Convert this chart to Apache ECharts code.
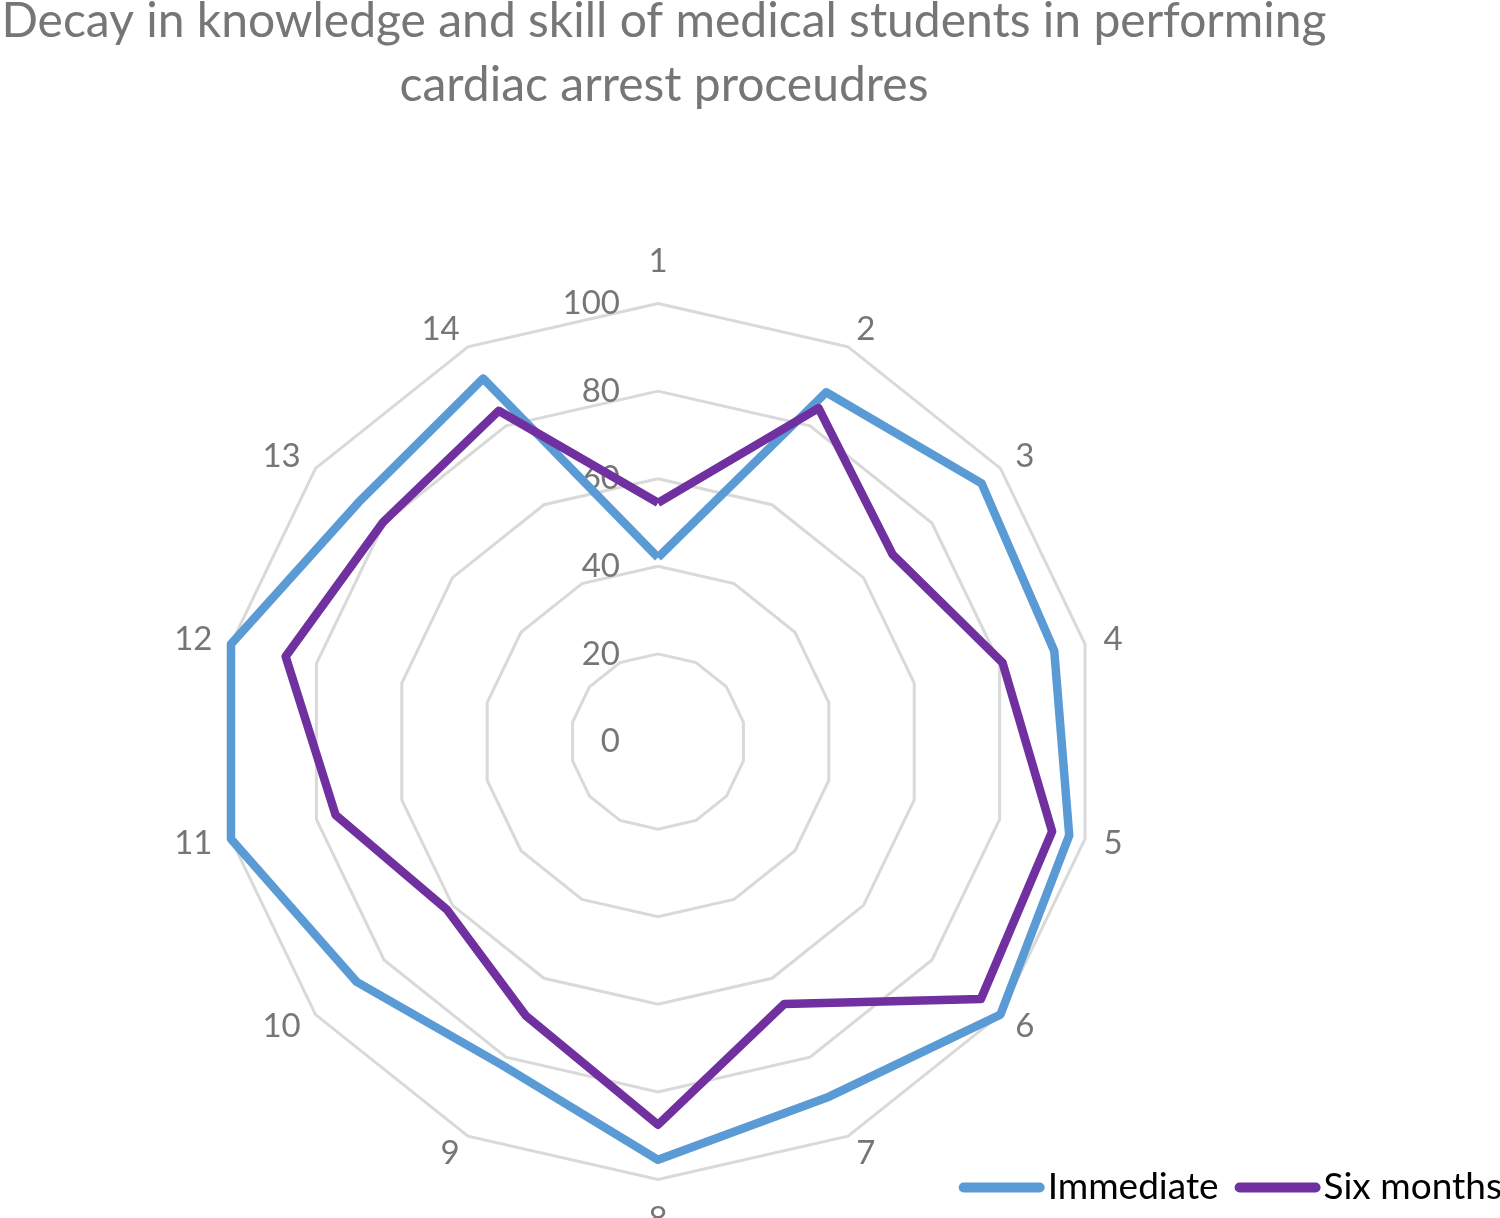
<!DOCTYPE html>
<html>
<head>
<meta charset="utf-8">
<script src="https://cdn.jsdelivr.net/npm/echarts@6/dist/echarts.min.js"></script>
<style>
html,body{margin:0;padding:0;background:#fff;}
#chart{width:1500px;height:1218px;}
</style>
</head>
<body>
<div id="chart"></div>
<script>
const titleText = 'Decay in knowledge and skill of medical students in performing\ncardiac arrest proceudres';
const categories = ['1','2','3','4','5','6','7','8','9','10','11','12','13','14'];
const seriesNames = ['Immediate','Six months'];
const immediate = [42, 88.5, 94.5, 92.8, 96.3, 100, 90, 95.5, 82, 88, 100, 100, 87.5, 92];
const sixMonths = [54.5, 84.5, 68.5, 80.7, 92.3, 94.3, 66.5, 87.5, 69.5, 61.6, 75.5, 87.2, 80.3, 83.8];
const axisMin = 0, axisMax = 100, axisSplits = 5;

const FONT = 'Lato';
// ECharts radar runs counter-clockwise; reorder so categories go clockwise from the top
const order = categories.map((c, i) => (i === 0 ? 0 : categories.length - i));
const reorder = arr => order.map(i => arr[i]);

const chart = echarts.init(document.getElementById('chart'));
const indicator = reorder(categories).map((c, i) => {
  const o = { name: c, min: axisMin, max: axisMax };
  if (i === 0) {
    o.axisLabel = { show: true, color: '#767676', fontSize: 33, fontFamily: FONT, margin: 38 };
  }
  return o;
});
chart.setOption({
  backgroundColor: '#fff',
  animation: false,
  title: {
    text: titleText,
    left: 659, top: -15,
    textAlign: 'center',
    textStyle: { fontFamily: FONT, fontSize: 48, fontWeight: 'normal', color: '#767676', lineHeight: 64, align: 'center' }
  },
  legend: {
    data: seriesNames,
    right: -2, top: 1169, padding: 0,
    itemWidth: 86, itemHeight: 10, itemGap: 16,
    icon: 'path://M5,0 L81,0 A5,5 0 0 1 81,10 L5,10 A5,5 0 0 1 5,0 Z',
    textStyle: { fontFamily: FONT, fontSize: 37, color: '#000', padding: [0,0,0,-2] }
  },
  radar: {
    center: [658, 741.5],
    radius: 438,
    startAngle: 90,
    splitNumber: axisSplits,
    shape: 'polygon',
    indicator: indicator,
    axisName: {
      color: '#767676', fontSize: 33, fontFamily: FONT,
      formatter: (n) => n === '1' ? '{t|1}' : (n === '8' ? '{b|8}' : n),
      rich: {
        t: { color: '#767676', fontSize: 33, fontFamily: FONT, padding: [0, 0, 7, 0] },
        b: { color: '#767676', fontSize: 33, fontFamily: FONT, padding: [4, 0, 0, 0] }
      }
    },
    nameGap: 19,
    axisLine: { show: false },
    axisTick: { show: false },
    axisLabel: { show: false },
    splitArea: { show: false },
    splitLine: { lineStyle: { color: '#d9d9d9', width: 3 } }
  },
  series: [{
    type: 'radar',
    symbol: 'none',
    data: [
      { name: seriesNames[0], value: reorder(immediate), lineStyle: { color: '#5b9bd5', width: 8.5 }, itemStyle: { color: '#5b9bd5' } },
      { name: seriesNames[1], value: reorder(sixMonths), lineStyle: { color: '#7030a0', width: 8.5 }, itemStyle: { color: '#7030a0' } }
    ]
  }]
});
</script>
</body>
</html>
